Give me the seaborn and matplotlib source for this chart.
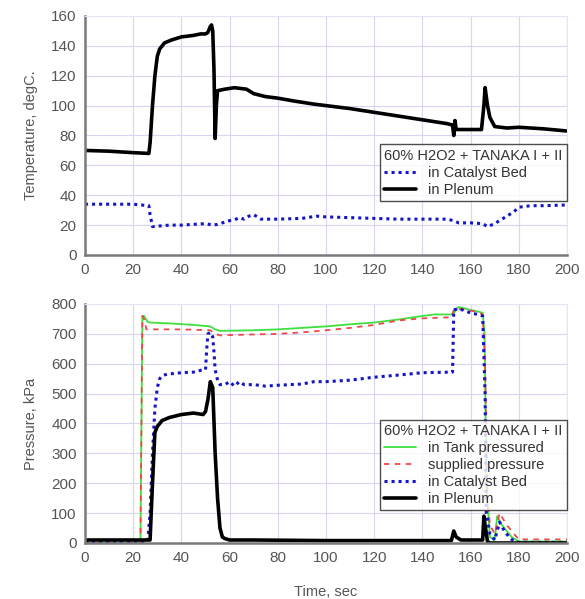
import numpy as np
import pandas as pd
import matplotlib
matplotlib.use("Agg")
import matplotlib.pyplot as plt
import seaborn as sns

# ---------------- data ----------------
# Top panel: temperatures (degC)
t_temp_plenum = [0, 10, 20, 26.5, 27, 28, 29, 30, 31, 33, 36, 40, 45, 48, 50, 51, 52, 52.5, 53, 53.5,
                 54, 54.5, 55, 58, 62, 67, 70, 75, 80, 87, 95, 100, 110, 120, 130, 140, 150, 152.5,
                 153, 153.5, 154, 156, 160, 164.5, 165.5, 166, 167, 168, 170, 175, 180, 190, 200]
temp_plenum = [70, 69.5, 68.5, 68, 75, 100, 120, 133, 138, 142, 144, 146, 147, 148, 148, 149, 153, 154, 150, 125,
               78, 100, 110, 111, 112, 111, 108, 106, 105, 103, 101, 100, 98, 95.5, 93, 90.5, 88, 87,
               80, 90, 84, 84, 84, 84, 100, 112, 100, 92, 86, 85, 85.5, 84.5, 83]

t_temp_bed = [0, 10, 20, 26.5, 27, 28, 35, 40, 45, 50, 53, 55, 58, 60, 62, 64, 66, 68, 70, 72, 73, 80,
              90, 96, 100, 110, 120, 130, 140, 150, 153, 155, 160, 165, 167, 170, 173, 176, 178, 180,
              185, 190, 200]
temp_bed = [34, 34, 34, 33, 27, 19, 20, 20, 20.5, 21, 20, 20.5, 22, 23, 23.5, 25, 24, 26, 27, 25, 24, 24,
            24.5, 26, 25.5, 25, 24.5, 24, 24, 24, 23, 21.5, 21.5, 21, 19, 21, 24, 27, 29, 32,
            33, 33, 33.5]

# Bottom panel: pressures (kPa)
t_p_tank = [0, 23, 23.8, 24.5, 26, 27, 35, 45, 52, 54, 56, 70, 80, 90, 100, 110, 120, 130, 140, 145,
            152, 153, 155, 160, 163, 165, 165.8, 166.5, 168, 170, 171, 173, 175, 177, 180, 190, 200]
p_tank = [0, 0, 760, 760, 740, 738, 735, 730, 725, 715, 710, 712, 715, 720, 725, 732, 738, 748, 760, 765,
          765, 770, 790, 780, 775, 770, 700, 200, 20, 10, 90, 60, 40, 20, 5, 5, 5]

t_p_supply = [0, 23, 23.8, 24.5, 25.5, 27, 40, 52, 54, 56, 70, 80, 90, 100, 110, 120, 130, 140, 150,
              152, 153, 154, 160, 163, 165, 166, 167, 168, 170, 172, 175, 178, 180, 190, 200]
p_supply = [0, 0, 760, 750, 715, 715, 715, 712, 700, 695, 698, 700, 705, 712, 720, 730, 745, 752, 755,
            755, 780, 785, 778, 772, 765, 600, 150, 60, 30, 100, 60, 30, 12, 12, 12]

t_p_bed = [0, 26, 27, 28, 29, 30, 31, 32, 34, 40, 45, 48, 50, 50.5, 51, 52, 53, 53.5, 54, 55, 56, 58,
           60, 62, 64, 66, 70, 75, 80, 90, 95, 100, 110, 120, 130, 140, 152, 152.5, 153, 155, 160,
           163, 165, 166, 166.5, 167, 168, 170, 172, 174, 176, 178, 180, 190, 200]
p_bed = [5, 5, 100, 300, 450, 520, 550, 560, 565, 570, 572, 578, 580, 650, 700, 705, 690, 640, 580, 545, 530, 530,
         540, 525, 540, 530, 530, 525, 528, 532, 540, 540, 545, 555, 562, 570, 572, 572, 780, 785, 770,
         765, 760, 500, 100, 80, 30, 10, 70, 40, 20, 5, 2, 2, 2]

t_p_plenum = [0, 26, 27, 28, 29, 30, 32, 35, 40, 45, 49, 50, 51, 52, 53, 54, 55, 56, 57, 58, 60, 70,
              100, 140, 152, 153, 154, 156, 165, 165.5, 166, 167, 168, 200]
p_plenum = [10, 10, 10, 200, 370, 390, 410, 420, 430, 435, 430, 440, 480, 540, 520, 300, 150, 50, 20, 15, 10, 10,
            8, 8, 8, 40, 20, 10, 10, 90, 60, 5, 0, 0]

legend_title = "60% H2O2 + TANAKA I + II"
x_ticks = list(range(0, 201, 20))
y_ticks_temp = list(range(0, 161, 20))
y_ticks_pres = list(range(0, 801, 100))

# ---------------- style ----------------
sns.set_theme(style="white")
plt.rcParams['font.family'] = ['Liberation Sans', 'DejaVu Sans']
txt = "#555555"
grid_c = "#d6d6f2"

fig = plt.figure(figsize=(5.85, 5.99), dpi=100)
ax1 = fig.add_axes([0.1453, 0.5743, 0.824, 0.399])
ax2 = fig.add_axes([0.1453, 0.0935, 0.824, 0.399])

blue = "#1414c8"
dot = (0, (1, 1.3))

sns.lineplot(x=t_temp_bed, y=temp_bed, ax=ax1, color=blue, linestyle=dot, linewidth=2.2,
             estimator=None, sort=False, label="in Catalyst Bed")
sns.lineplot(x=t_temp_plenum, y=temp_plenum, ax=ax1, color="black", linewidth=2.6,
             estimator=None, sort=False, label="in Plenum")

sns.lineplot(x=t_p_tank, y=p_tank, ax=ax2, color="#3ee03e", linewidth=1.3,
             estimator=None, sort=False, label="in Tank pressured")
sns.lineplot(x=t_p_supply, y=p_supply, ax=ax2, color="#f04848", linestyle=(0, (3, 3)), linewidth=1.3,
             estimator=None, sort=False, label="supplied pressure")
sns.lineplot(x=t_p_bed, y=p_bed, ax=ax2, color=blue, linestyle=dot, linewidth=2.2,
             estimator=None, sort=False, label="in Catalyst Bed")
sns.lineplot(x=t_p_plenum, y=p_plenum, ax=ax2, color="black", linewidth=2.6,
             estimator=None, sort=False, label="in Plenum")

for ax, yt, ylab in [(ax1, y_ticks_temp, "Temperature, degC."), (ax2, y_ticks_pres, "Pressure, kPa")]:
    ax.set_xlim(0, 200)
    ax.set_ylim(yt[0], yt[-1])
    ax.set_xticks(x_ticks)
    ax.set_yticks(yt)
    ax.grid(True, color=grid_c, linewidth=0.8, linestyle="-")
    ax.set_axisbelow(True)
    ax.tick_params(axis="both", direction="in", length=5, width=1.2, color="#777777",
                   labelcolor=txt, labelsize=11, pad=6, top=False, right=False)
    for s in ["left", "bottom"]:
        ax.spines[s].set_color("#7a7a7a")
        ax.spines[s].set_linewidth(1.8)
    for s in ["top", "right"]:
        ax.spines[s].set_color("#e4e4f4")
        ax.spines[s].set_linewidth(0.8)
    ax.set_ylabel(ylab, color=txt, fontsize=10.5)
    ax.set_xlabel("")
    ax.yaxis.set_label_coords(-0.097, 0.5)

ax2.set_xlabel("Time, sec", color=txt, fontsize=10.5, labelpad=14)

for ax, yb in [(ax1, 0.226), (ax2, 0.138)]:
    leg = ax.legend(title=legend_title, loc="lower right", bbox_to_anchor=(1.0, yb),
                    fontsize=10.5, title_fontsize=10.5, frameon=True, fancybox=False,
                    edgecolor="#222222", handlelength=2.2, handletextpad=0.8,
                    labelspacing=0.2, borderpad=0.3, alignment="left", borderaxespad=0)
    leg.get_frame().set_linewidth(1.0)
    for t in leg.get_texts():
        t.set_color("#333333")
    leg.get_title().set_color("#333333")

fig.savefig("out.png", dpi=100)
